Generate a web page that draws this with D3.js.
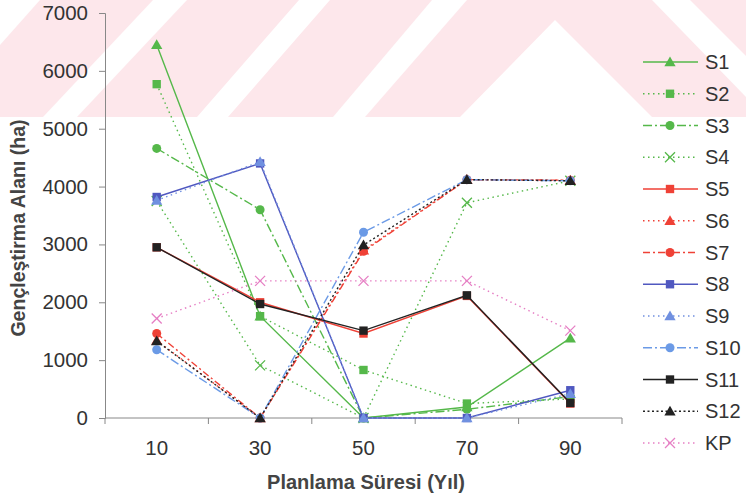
<!DOCTYPE html>
<html lang="tr">
<head>
    <meta charset="UTF-8">
    <title>Gençleştirma Alanı</title>
    <script src="https://d3js.org/d3.v7.min.js"></script>
    <style>
        body {
            margin: 0;
            padding: 0;
            background: #fff;
            font-family: "Liberation Sans", Arial, sans-serif;
        }
        svg {
            display: block;
        }
        .tick text {
            fill: #333;
        }
    </style>
</head>
<body>
    <svg id="chart" width="746" height="497"></svg>

    <script>
        // data
        const years = ["10", "30", "50", "70", "90"];
        const yTicks = [0, 1000, 2000, 3000, 4000, 5000, 6000, 7000];

        const S1 = [6450, 1760, 0, 190, 1380];
        const S2 = [5770, 1760, 830, 250, 330];
        const S3 = [4660, 3600, 0, 150, 370];
        const S4 = [3750, 910, 0, 3720, 4100];
        const S5 = [2950, 2000, 1460, 2110, 250];
        const S6 = [1340, 0, 2900, 4120, 4110];
        const S7 = [1460, 0, 2880, 4120, 4110];
        const S8 = [3820, 4400, 0, 0, 480];
        const S9 = [3760, 4430, 0, 0, 420];
        const S10 = [1180, 0, 3210, 4120, 4100];
        const S11 = [2950, 1970, 1510, 2120, 260];
        const S12 = [1330, 0, 2990, 4120, 4100];
        const KP = [1720, 2370, 2370, 2370, 1510];

        const seriesNames = ["S1", "S2", "S3", "S4", "S5", "S6", "S7", "S8", "S9", "S10", "S11", "S12", "KP"];
        const seriesValues = [S1, S2, S3, S4, S5, S6, S7, S8, S9, S10, S11, S12, KP];

        // look of each series (colour, dash, marker)
        const green = "#55b84a", red = "#ef4136", black = "#222";
        const styles = {
            S1:  { color: green, dash: null, marker: "triangle" },
            S2:  { color: green, dash: "1.5,3.5", marker: "square" },
            S3:  { color: green, dash: "9,3,2,3", marker: "circle" },
            S4:  { color: green, dash: "1.5,3.5", marker: "x" },
            S5:  { color: red, dash: null, marker: "square" },
            S6:  { color: red, dash: "1.5,3.5", marker: "triangle" },
            S7:  { color: red, dash: "7,3,2,3", marker: "circle" },
            S8:  { color: "#5058c0", dash: null, marker: "square" },
            S9:  { color: "#7090e0", dash: "1.5,3.5", marker: "triangle" },
            S10: { color: "#6b9ae6", dash: "9,3,2,3", marker: "circle" },
            S11: { color: black, dash: null, marker: "square" },
            S12: { color: black, dash: "2,2.5", marker: "triangle" },
            KP:  { color: "#e67fc4", dash: "1.5,3.5", marker: "x" }
        };

        const series = seriesNames.map((name, i) => ({ name: name, values: seriesValues[i], style: styles[name] }));

        const svg = d3.select("#chart");

        // scanned thesis watermark behind the figure
        const wm = svg.append("g").attr("class", "watermark");
        wm.append("rect").attr("x", 0).attr("y", 0).attr("width", 746).attr("height", 117).attr("fill", "#fde7eb");
        const whiteShapes = [
            [[0, 0], [40, 0], [0, 45]],
            [[43, 117], [77, 117], [187, 0], [153, 0]],
            [[197, 117], [228, 117], [330, 0], [299, 0]],
            [[333, 117], [365, 117], [467, 0], [432, 0]],
            [[460, 117], [555, 20], [652, 117]],
            [[652, 0], [690, 0], [746, 56], [746, 97]]
        ];
        wm.selectAll("polygon.w")
            .data(whiteShapes)
            .enter().append("polygon")
            .attr("class", "w")
            .attr("points", d => d.map(p => p.join(",")).join(" "))
            .attr("fill", "#fff");

        const plotLeft = 105, plotRight = 622, plotTop = 13, plotBottom = 418;

        const x = d3.scaleBand().domain(years).range([plotLeft, plotRight]);
        const y = d3.scaleLinear().domain([0, 7000]).range([plotBottom, plotTop]);
        const xc = d => x(d) + x.bandwidth() / 2;

        // y axis
        const yAxis = svg.append("g")
            .attr("transform", `translate(${plotLeft},0)`)
            .call(d3.axisLeft(y).tickValues(yTicks).tickSize(6).tickPadding(11).tickFormat(d3.format("d")));
        yAxis.selectAll("text").attr("font-size", "20.5px").attr("font-family", "Liberation Sans, Arial, sans-serif");

        // x axis, ticks between categories like excel
        const xAxisG = svg.append("g").attr("transform", `translate(0,${plotBottom})`);
        xAxisG.append("line")
            .attr("x1", plotLeft).attr("x2", plotRight)
            .attr("stroke", "#888");
        xAxisG.selectAll("line.tk")
            .data(years.map(d => x(d)).concat([plotRight]))
            .enter().append("line")
            .attr("class", "tk")
            .attr("x1", d => d).attr("x2", d => d)
            .attr("y1", 0).attr("y2", 6)
            .attr("stroke", "#888");
        xAxisG.selectAll("text")
            .data(years)
            .enter().append("text")
            .attr("x", d => xc(d))
            .attr("y", 30)
            .attr("dy", "0.35em")
            .attr("text-anchor", "middle")
            .attr("font-size", "20.5px")
            .attr("fill", "#333")
            .text(d => d);

        yAxis.select(".domain").attr("stroke", "#888");
        yAxis.selectAll(".tick line").attr("stroke", "#888");

        // titles
        svg.append("text")
            .attr("transform", `translate(25,228) rotate(-90)`)
            .attr("text-anchor", "middle")
            .attr("font-size", "19.5px")
            .attr("font-weight", "bold")
            .attr("fill", "#444")
            .text("Gençleştirma Alanı (ha)");

        svg.append("text")
            .attr("x", 366)
            .attr("y", 489)
            .attr("text-anchor", "middle")
            .attr("font-size", "20px")
            .attr("font-weight", "bold")
            .attr("fill", "#444")
            .text("Planlama Süresi (Yıl)");

        // marker drawing helper
        function drawMarker(g, kind, color, cx, cy) {
            if (kind === "triangle") {
                g.append("path")
                    .attr("d", d3.symbol().type(d3.symbolTriangle).size(55)())
                    .attr("transform", `translate(${cx},${cy + 1})`)
                    .attr("fill", color);
            } else if (kind === "square") {
                g.append("path")
                    .attr("d", d3.symbol().type(d3.symbolSquare).size(70)())
                    .attr("transform", `translate(${cx},${cy})`)
                    .attr("fill", color);
            } else if (kind === "circle") {
                g.append("circle")
                    .attr("cx", cx).attr("cy", cy).attr("r", 4.5)
                    .attr("fill", color);
            } else {
                const r = 5;
                g.append("path")
                    .attr("d", `M${cx - r},${cy - r}L${cx + r},${cy + r}M${cx - r},${cy + r}L${cx + r},${cy - r}`)
                    .attr("stroke", color)
                    .attr("stroke-width", 1.3)
                    .attr("fill", "none");
            }
        }

        const line = d3.line()
            .x((d, i) => xc(years[i]))
            .y(d => y(d));

        // lines first, markers on top
        const plot = svg.append("g").attr("class", "series");
        series.forEach(s => {
            const g = plot.append("g");
            g.append("path")
                .attr("d", line(s.values))
                .attr("fill", "none")
                .attr("stroke", s.style.color)
                .attr("stroke-width", 1.4)
                .attr("stroke-dasharray", s.style.dash);
            s.values.forEach((v, i) => drawMarker(g, s.style.marker, s.style.color, xc(years[i]), y(v)));
        });

        // legend
        const legendY = d3.scalePoint().domain(seriesNames).range([62, 443]);
        const legend = svg.append("g").attr("class", "legend");
        series.forEach(s => {
            const ly = legendY(s.name);
            const row = legend.append("g");
            row.append("line")
                .attr("x1", 643).attr("x2", 698)
                .attr("y1", ly).attr("y2", ly)
                .attr("stroke", s.style.color)
                .attr("stroke-width", 1.4)
                .attr("stroke-dasharray", s.style.dash);
            drawMarker(row, s.style.marker, s.style.color, 670, ly);
            row.append("text")
                .attr("x", 705)
                .attr("y", ly)
                .attr("dy", "0.35em")
                .attr("font-size", "20px")
                .attr("fill", "#333")
                .text(s.name);
        });
    </script>
</body>
</html>
